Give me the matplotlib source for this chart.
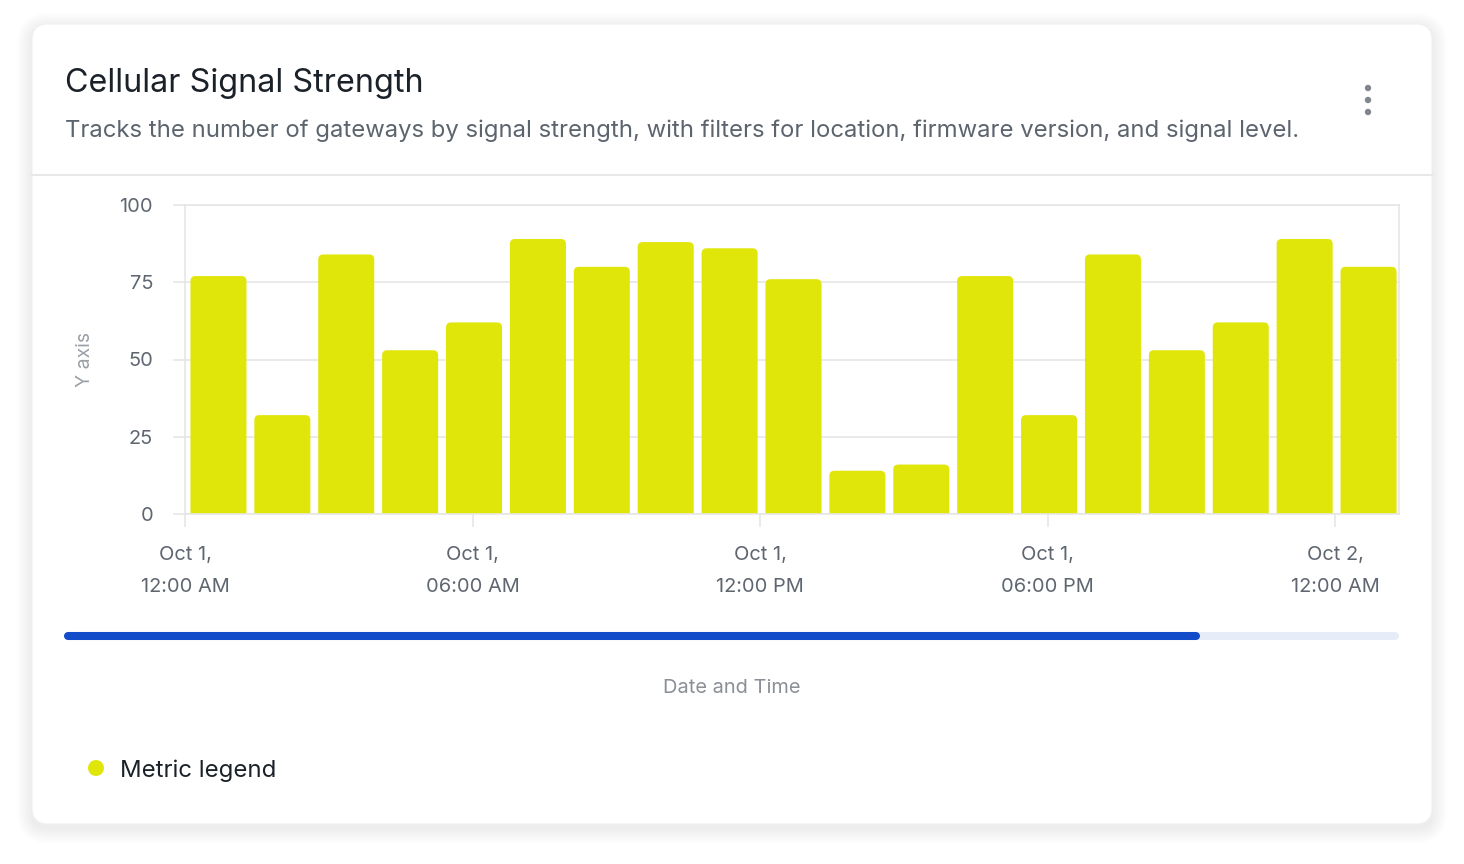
import matplotlib
matplotlib.use("Agg")
import matplotlib.pyplot as plt
import matplotlib.dates as mdates
from matplotlib.patches import FancyBboxPatch, Circle
import pandas as pd

plt.rcParams['font.family'] = ['Inter', 'DejaVu Sans']

W, H = 1464, 864

# data
bin_starts = ["2024-10-01 00:00", "2024-10-01 01:20", "2024-10-01 02:40", "2024-10-01 04:00",
              "2024-10-01 05:20", "2024-10-01 06:40", "2024-10-01 08:00", "2024-10-01 09:20",
              "2024-10-01 10:40", "2024-10-01 12:00", "2024-10-01 13:20", "2024-10-01 14:40",
              "2024-10-01 16:00", "2024-10-01 17:20", "2024-10-01 18:40", "2024-10-01 20:00",
              "2024-10-01 21:20", "2024-10-01 22:40", "2024-10-02 00:00"]
values = [77, 32, 84, 53, 62, 89, 80, 88, 86, 76, 14, 16, 77, 32, 84, 53, 62, 89, 80]
bin_minutes = 80
tick_times = ["2024-10-01 00:00", "2024-10-01 06:00", "2024-10-01 12:00",
              "2024-10-01 18:00", "2024-10-02 00:00"]
tick_labels = ["Oct 1,\n12:00 AM", "Oct 1,\n06:00 AM", "Oct 1,\n12:00 PM",
               "Oct 1,\n06:00 PM", "Oct 2,\n12:00 AM"]
y_ticks = [0, 25, 50, 75, 100]

title = "Cellular Signal Strength"
subtitle = ("Tracks the number of gateways by signal strength, with filters for location, "
            "firmware version, and signal level.")

BAR = "#e1e60a"
GRID = "#e6e6e6"
BLUE = "#134cc8"
TRACK = "#e6ecf8"

fig = plt.figure(figsize=(W / 100, H / 100), dpi=100, facecolor="white")

# background layer in pixel coordinates
bg = fig.add_axes([0, 0, 1, 1], zorder=0)
bg.set_xlim(0, W)
bg.set_ylim(H, 0)
bg.axis("off")

# card shadow
for i in range(6):
    g = 2 + i * 2.5
    bg.add_patch(FancyBboxPatch((32 - g, 24 - g + 4), 1400 + 2 * g, 800 + 2 * g,
                                boxstyle=f"round,pad=0,rounding_size={16 + g}",
                                fc="black", ec="none", alpha=0.01))
bg.add_patch(FancyBboxPatch((32, 24), 1400, 800, boxstyle="round,pad=0,rounding_size=16",
                            fc="white", ec="#f0f0f0", lw=0.8))

bg.text(65, 92, title, fontsize=23.3, color="#1b2128", va="baseline")
bg.text(65, 137, subtitle, fontsize=17.2, color="#5c646e", va="baseline")
for yy in (88, 100, 112):
    bg.add_patch(Circle((1368, yy), 3.2, fc="#80868b", ec="none"))
bg.plot([32, 1432], [175, 175], color="#e8e8e8", lw=1.5)

# scrollbar
bg.plot([68, 1395], [636, 636], color=TRACK, lw=5.8, solid_capstyle="round")
bg.plot([68, 1196], [636, 636], color=BLUE, lw=5.8, solid_capstyle="round")

bg.text(732, 693, "Date and Time", fontsize=14.4, color="#8a9096", ha="center", va="baseline")

# legend
bg.add_patch(Circle((96, 768), 8, fc=BAR, ec="none"))
bg.text(120, 777, "Metric legend", fontsize=17.25, color="#1b2128", va="baseline")

# chart
ax = fig.add_axes([185 / W, (H - 514) / H, (1399 - 185) / W, (514 - 205) / H], zorder=1)
ax.patch.set_alpha(0)

starts = mdates.date2num(pd.to_datetime(bin_starts))
bin_w = bin_minutes / 1440
x0, x1 = starts[0], starts[-1] + bin_w
ax.set_xlim(x0, x1)
ax.set_ylim(0, 100)

px_x = (1399 - 185) / (x1 - x0)
px_y = (514 - 205) / 100
r_px = 5
rx, ry = r_px / px_x, r_px / px_y

bars = ax.bar(starts + bin_w / 2 + 1.5 / px_x, values, width=bin_w * 0.877, color=BAR)
for rect in bars.patches:
    bx, bw, bh = rect.get_x(), rect.get_width(), rect.get_height()
    rect.remove()
    ax.add_patch(FancyBboxPatch((bx, -ry), bw, bh + ry,
                                boxstyle=f"round,pad=0,rounding_size={rx}",
                                mutation_aspect=ry / rx, fc=BAR, ec="none", zorder=2))

ax.set_yticks(y_ticks)
ax.set_xticks(mdates.date2num(pd.to_datetime(tick_times)))
ax.set_xticklabels(tick_labels)
for t in ax.get_xticklabels():
    t.set_linespacing(2.0)
ax.grid(axis="y", color=GRID, lw=1.2)
ax.set_axisbelow(True)
for s in ax.spines.values():
    s.set_color(GRID)
    s.set_linewidth(1.2)
ax.tick_params(axis="both", colors=GRID, width=1.2, length=9, labelcolor="#5f6670",
               labelsize=14.4)
ax.tick_params(axis="y", pad=14)
ax.tick_params(axis="x", pad=14)
ax.set_ylabel("Y axis", fontsize=14, color="#9aa0a6", labelpad=18)

fig.savefig("out.png", dpi=100, facecolor="white")
